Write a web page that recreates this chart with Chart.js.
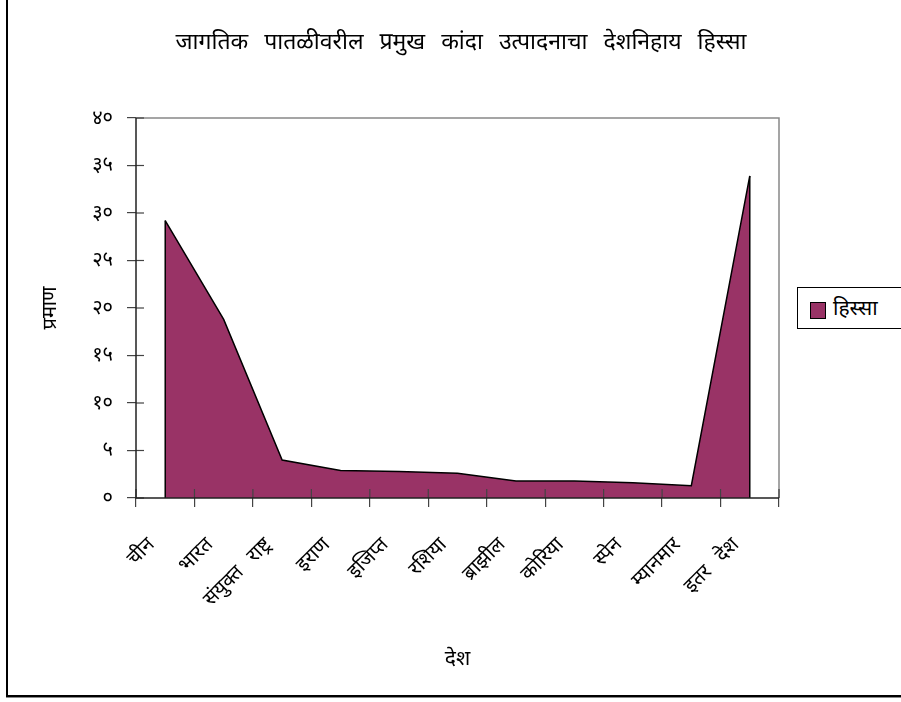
<!DOCTYPE html>
<html><head><meta charset="utf-8">
<script src="https://cdn.jsdelivr.net/npm/chart.js@4/dist/chart.umd.min.js"></script>
<style>
html,body{margin:0;padding:0;background:#fff;overflow:hidden}
#wrap{position:relative;width:901px;height:702px}
#frame{position:absolute;left:6px;top:-10px;width:1000px;height:707px;border-left:2px solid #000;border-bottom:2px solid #000;box-sizing:border-box;box-shadow:0 1px 0 #888}
#c{position:absolute;left:0;top:0}
#title{position:absolute;left:161px;width:600px;top:25px;text-align:center;white-space:nowrap;font-family:"Noto Sans",sans-serif;font-size:23px;line-height:30px;word-spacing:10px;color:#000}
#legend{position:absolute;left:797px;top:287px;width:130px;height:42px;border:1px solid #000;box-sizing:border-box;background:#fff;font-family:"Noto Sans",sans-serif;font-size:21px;color:#000}
#legend .sw{position:absolute;left:12px;top:14px;width:14px;height:15px;background:#993366;border:1px solid #000}
#legend .tx{position:absolute;left:35px;top:6px;line-height:26px}
</style></head>
<body><div id="wrap"><div id="frame"></div><canvas id="c" width="901" height="702"></canvas>
<div id="title"></div>
<div id="legend"><span class="sw"></span><span class="tx" id="legtx"></span></div></div>
<script>
const chartTitle = 'जागतिक पातळीवरील प्रमुख कांदा उत्पादनाचा देशनिहाय हिस्सा';
const categories = ['चीन','भारत','संयुक्त राष्ट्र','इराण','इजिप्त','रशिया','ब्राझील','कोरिया','स्पेन','म्यानमार','इतर देश'];
const seriesName = 'हिस्सा';
const shareValues = [29.2, 18.8, 4.0, 2.9, 2.8, 2.6, 1.8, 1.8, 1.6, 1.3, 33.9];
const yTickValues = [0,5,10,15,20,25,30,35,40];
const yTickLabels = ['०','५','१०','१५','२०','२५','३०','३५','४०'];
const xTitle = 'देश';
const yTitle = 'प्रमाण';

document.getElementById('legtx').textContent = seriesName;
document.getElementById('title').textContent = chartTitle;
const FONT = '"Noto Sans", sans-serif';

const spacing = {
  id:'spacing',
  beforeLayout(chart){ chart.ctx.wordSpacing = '9px'; },
  beforeDraw(chart){ chart.ctx.wordSpacing = '9px'; }
};

const decor = {
  id:'decor',
  afterDatasetsDraw(chart){
    const ctx = chart.ctx, a = chart.chartArea, ys = chart.scales.y;
    const meta = chart.getDatasetMeta(0);
    const base = ys.getPixelForValue(0);
    ctx.save();
    ctx.strokeStyle = '#000'; ctx.lineWidth = 1.5;
    [meta.data[0], meta.data[meta.data.length-1]].forEach(p=>{
      ctx.beginPath(); ctx.moveTo(p.x, p.y); ctx.lineTo(p.x, base); ctx.stroke();
    });
    ctx.strokeStyle = '#888'; ctx.lineWidth = 1.5;
    ctx.beginPath(); ctx.moveTo(a.left, a.top); ctx.lineTo(a.right, a.top); ctx.lineTo(a.right, a.bottom); ctx.stroke();
    ctx.strokeStyle = '#444'; ctx.lineWidth = 1.2;
    yTickValues.forEach(v=>{
      const y = ys.getPixelForValue(v);
      ctx.beginPath(); ctx.moveTo(a.left, y); ctx.lineTo(a.left+8, y); ctx.stroke();
    });
    for(let i=0;i<=categories.length;i++){
      const x = a.left + (a.right-a.left)*i/categories.length;
      ctx.beginPath(); ctx.moveTo(x, a.bottom); ctx.lineTo(x, a.bottom-9); ctx.stroke();
    }
    ctx.strokeStyle = '#222'; ctx.lineWidth = 1.5;
    ctx.beginPath(); ctx.moveTo(a.left, a.top); ctx.lineTo(a.left, a.bottom); ctx.lineTo(a.right, a.bottom); ctx.stroke();
    ctx.restore();
  }
};

new Chart(document.getElementById('c'), {
  type:'line',
  data:{labels:categories, datasets:[{
    label:seriesName, data:shareValues, fill:'origin',
    backgroundColor:'#993366', borderColor:'#000', borderWidth:1.5,
    pointRadius:0, tension:0
  }]},
  options:{
    responsive:false, animation:false, devicePixelRatio:1,
    layout:{padding:{left:38,right:122,top:118,bottom:20}},
    plugins:{
      legend:{display:false}, tooltip:{enabled:false}, title:{display:false}
    },
    scales:{
      x:{
        offset:true,
        grid:{offset:true, drawOnChartArea:false, drawTicks:true, tickLength:9, color:'#444', lineWidth:1.2},
        border:{display:false},
        ticks:{color:'#000', font:{family:FONT,size:20}, maxRotation:45, minRotation:45, autoSkip:false, padding:26, labelOffset:-14},
        title:{display:true, text:xTitle, color:'#000', font:{family:FONT,size:21}, padding:{top:0,bottom:10}},
        afterFit(s){ s.height = 184; }
      },
      y:{
        min:0, max:40,
        afterBuildTicks(s){ s.ticks = yTickValues.map(v=>({value:v})); },
        grid:{drawOnChartArea:false, drawTicks:true, tickLength:9, color:'#444', lineWidth:1.2},
        border:{display:false},
        ticks:{color:'#000', font:{family:FONT,size:20}, padding:14,
          callback:(v)=>yTickLabels[yTickValues.indexOf(v)]},
        title:{display:true, text:yTitle, color:'#000', font:{family:FONT,size:20}, padding:{top:0,bottom:0}},
        afterFit(s){ s.width = 98; }
      }
    }
  },
  plugins:[spacing, decor]
});
</script></body></html>
